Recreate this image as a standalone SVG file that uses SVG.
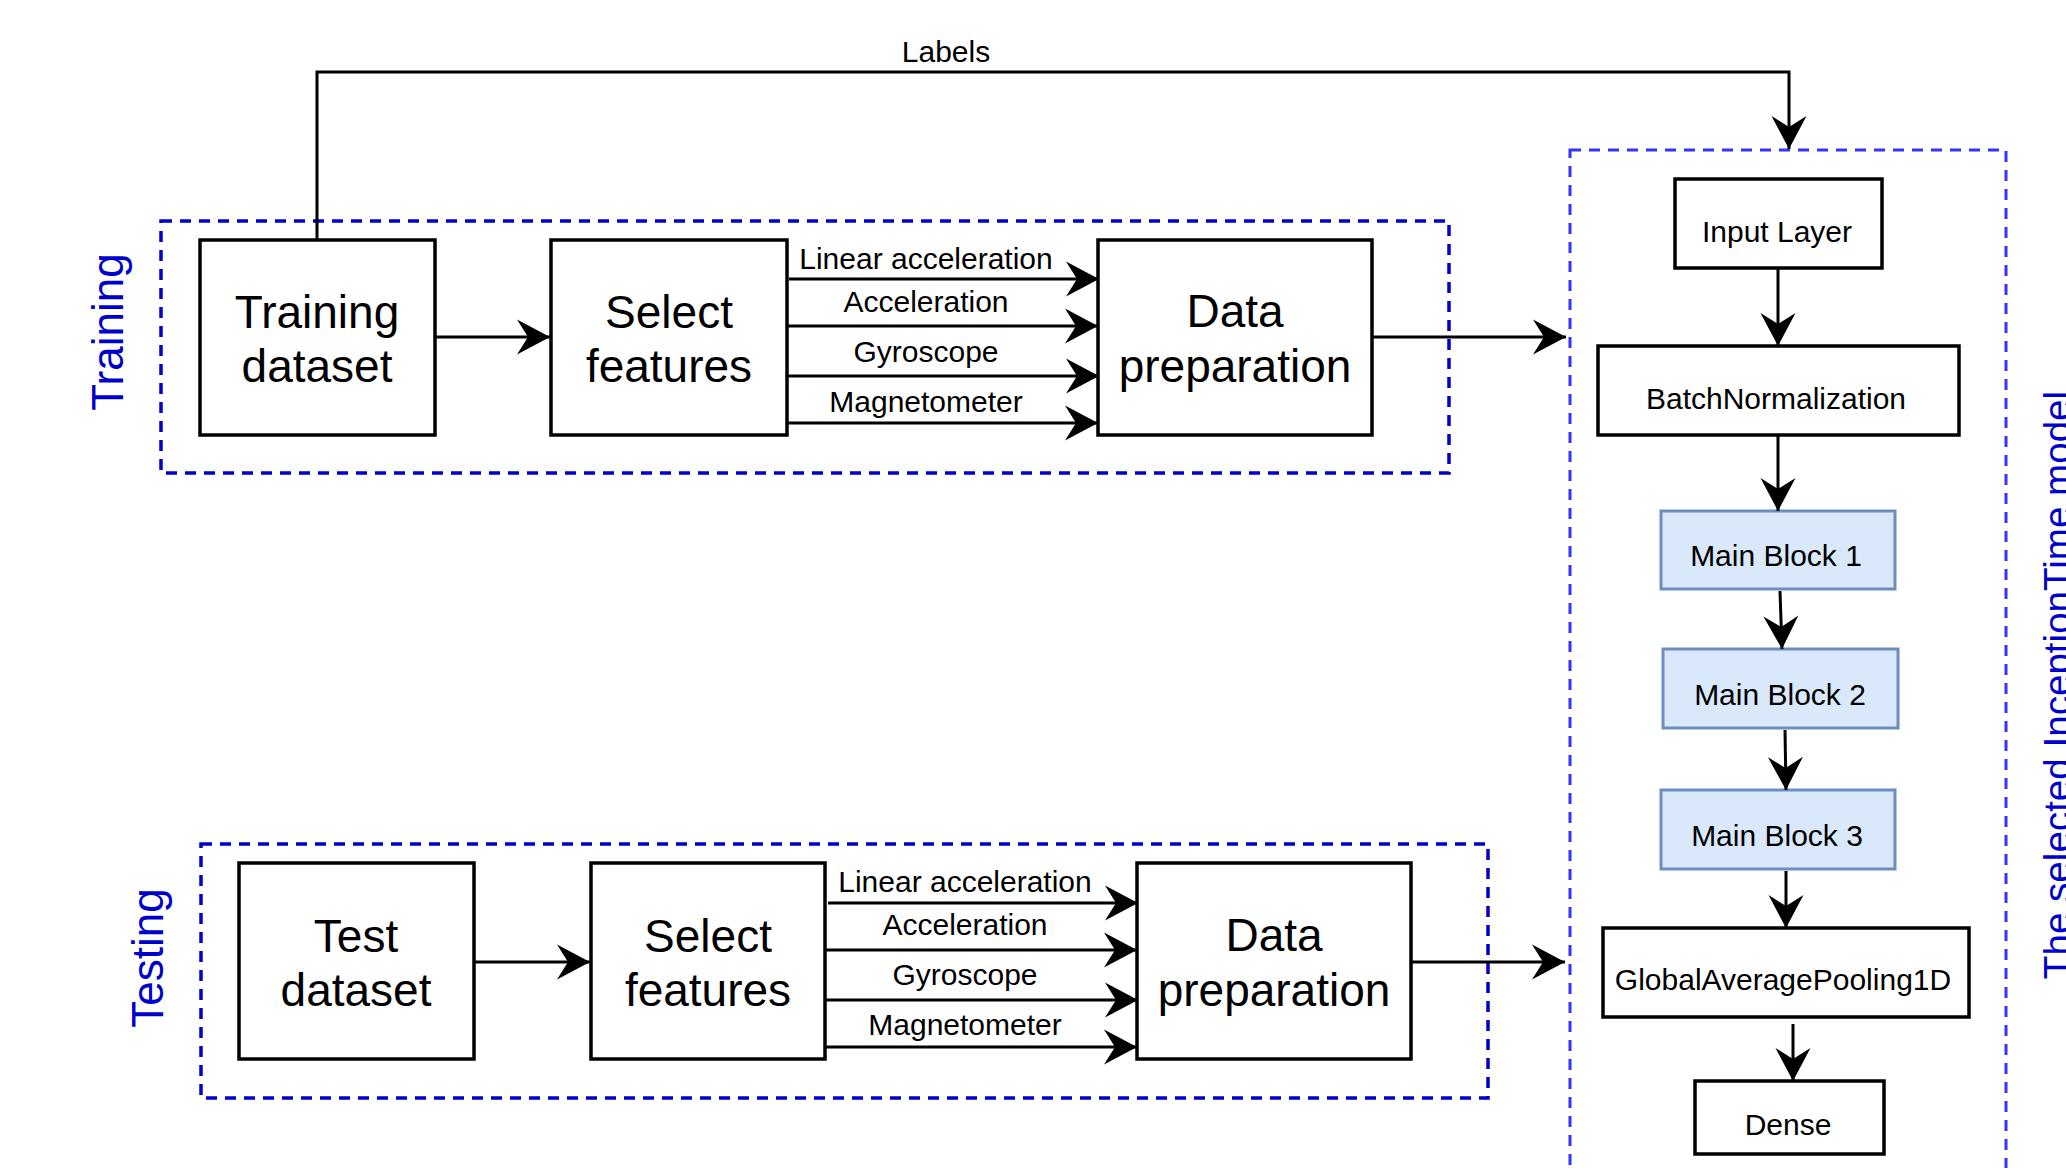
<svg xmlns="http://www.w3.org/2000/svg" width="2066" height="1168" viewBox="0 0 2066 1168">
  <style>
    .box { fill: #ffffff; stroke: #000000; stroke-width: 3.5; }
    .block { fill: #dae8fc; stroke: #6c8ebf; stroke-width: 3; }
    .group { fill: none; stroke: #0000cc; stroke-width: 3.5; stroke-dasharray: 11 8; }
    .model { fill: none; stroke: #3333ff; stroke-width: 3; stroke-dasharray: 11 8; }
    .big { font-family: "Liberation Sans", Arial, sans-serif; font-size: 46px; fill: #000000; text-anchor: middle; }
    .small { font-family: "Liberation Sans", Arial, sans-serif; font-size: 30px; fill: #000000; text-anchor: middle; }
    .title { font-family: "Liberation Sans", Arial, sans-serif; fill: #0000cc; text-anchor: middle; }
    .edge { fill: none; stroke: #000000; stroke-width: 3; marker-end: url(#arrow); }
    .plain { fill: none; stroke: #000000; stroke-width: 3; }
  </style>
  <defs>
    <marker id="arrow" viewBox="-35 -19 37 38" refX="0" refY="0" markerWidth="37" markerHeight="38" markerUnits="userSpaceOnUse" orient="auto">
      <path d="M0,0 L-33,-17.5 L-22,0 L-33,17.5 Z" fill="#000000" stroke="none"/>
    </marker>
  </defs>

  <rect width="2066" height="1168" fill="#ffffff"/>

  <!-- group frames and side titles -->
  <g id="training-group">
    <rect class="group" x="161" y="221" width="1288" height="252"/>
    <text class="title" font-size="44" transform="translate(123,332) rotate(-90)">Training</text>
  </g>
  <g id="testing-group">
    <rect class="group" x="201" y="844" width="1287" height="254"/>
    <text class="title" font-size="44" transform="translate(163,958) rotate(-90)">Testing</text>
  </g>
  <g id="model-group">
    <rect class="model" x="1570" y="150" width="436" height="1050"/>
    <text class="title" font-size="38.6" transform="translate(2071,685) rotate(-90)">The selected InceptionTime model</text>
  </g>

  <!-- training pipeline -->
  <g id="training-dataset">
    <rect class="box" x="200" y="240" width="235" height="195"/>
    <text class="big" x="317" y="328">Training</text>
    <text class="big" x="317" y="382">dataset</text>
  </g>
  <g id="training-select">
    <rect class="box" x="551" y="240" width="236" height="195"/>
    <text class="big" x="669" y="328">Select</text>
    <text class="big" x="669" y="382">features</text>
  </g>
  <g id="training-prep">
    <rect class="box" x="1098" y="240" width="274" height="195"/>
    <text class="big" x="1235" y="327">Data</text>
    <text class="big" x="1235" y="382">preparation</text>
  </g>

  <!-- testing pipeline -->
  <g id="test-dataset">
    <rect class="box" x="239" y="863" width="235" height="196"/>
    <text class="big" x="356" y="952">Test</text>
    <text class="big" x="356" y="1006">dataset</text>
  </g>
  <g id="test-select">
    <rect class="box" x="591" y="863" width="234" height="196"/>
    <text class="big" x="708" y="952">Select</text>
    <text class="big" x="708" y="1006">features</text>
  </g>
  <g id="test-prep">
    <rect class="box" x="1137" y="863" width="274" height="196"/>
    <text class="big" x="1274" y="951">Data</text>
    <text class="big" x="1274" y="1006">preparation</text>
  </g>

  <!-- model layers -->
  <g id="input-layer">
    <rect class="box" x="1675" y="179" width="207" height="89"/>
    <text class="small" x="1777" y="242">Input Layer</text>
  </g>
  <g id="batch-norm">
    <rect class="box" x="1598" y="346" width="361" height="89"/>
    <text class="small" x="1776" y="409">BatchNormalization</text>
  </g>
  <g id="main-block-1">
    <rect class="block" x="1661" y="511" width="234" height="78"/>
    <text class="small" x="1776" y="566">Main Block 1</text>
  </g>
  <g id="main-block-2">
    <rect class="block" x="1663" y="649" width="235" height="79"/>
    <text class="small" x="1780" y="705">Main Block 2</text>
  </g>
  <g id="main-block-3">
    <rect class="block" x="1661" y="790" width="234" height="79"/>
    <text class="small" x="1777" y="846">Main Block 3</text>
  </g>
  <g id="global-pooling">
    <rect class="box" x="1603" y="928" width="366" height="89"/>
    <text class="small" x="1783" y="990">GlobalAveragePooling1D</text>
  </g>
  <g id="dense">
    <rect class="box" x="1695" y="1081" width="189" height="73"/>
    <text class="small" x="1788" y="1135">Dense</text>
  </g>

  <!-- connectors -->
  <g id="connectors">
    <!-- labels feed to the model input -->
    <polyline class="edge" points="317,240 317,72 1789,72 1789,149"/>
    <text class="small" x="946" y="62" font-size="29.5">Labels</text>

    <!-- training flow -->
    <line class="edge" x1="435" y1="337" x2="550" y2="337"/>
    <line class="edge" x1="789" y1="279" x2="1099" y2="279"/>
    <line class="edge" x1="787" y1="326" x2="1098" y2="326"/>
    <line class="edge" x1="787" y1="376" x2="1099" y2="376"/>
    <line class="edge" x1="787" y1="423" x2="1098" y2="423"/>
    <text class="small" x="926" y="269">Linear acceleration</text>
    <text class="small" x="926" y="312">Acceleration</text>
    <text class="small" x="926" y="362">Gyroscope</text>
    <text class="small" x="926" y="412">Magnetometer</text>
    <line class="edge" x1="1372" y1="337" x2="1566" y2="337"/>

    <!-- testing flow -->
    <line class="edge" x1="474" y1="962" x2="590" y2="962"/>
    <line class="edge" x1="828" y1="903" x2="1138" y2="903"/>
    <line class="edge" x1="825" y1="950" x2="1137" y2="950"/>
    <line class="edge" x1="825" y1="1000" x2="1138" y2="1000"/>
    <line class="edge" x1="825" y1="1047" x2="1137" y2="1047"/>
    <text class="small" x="965" y="892">Linear acceleration</text>
    <text class="small" x="965" y="935">Acceleration</text>
    <text class="small" x="965" y="985">Gyroscope</text>
    <text class="small" x="965" y="1035">Magnetometer</text>
    <line class="edge" x1="1411" y1="962" x2="1565" y2="962"/>

    <!-- model layer chain -->
    <line class="edge" x1="1778" y1="268" x2="1778" y2="346"/>
    <line class="edge" x1="1778" y1="435" x2="1778" y2="511"/>
    <line class="edge" x1="1780" y1="591" x2="1782" y2="649"/>
    <line class="edge" x1="1785" y1="730" x2="1786" y2="790"/>
    <line class="edge" x1="1786" y1="871" x2="1786" y2="928"/>
    <line class="edge" x1="1793" y1="1024" x2="1793" y2="1081"/>
  </g>
</svg>
